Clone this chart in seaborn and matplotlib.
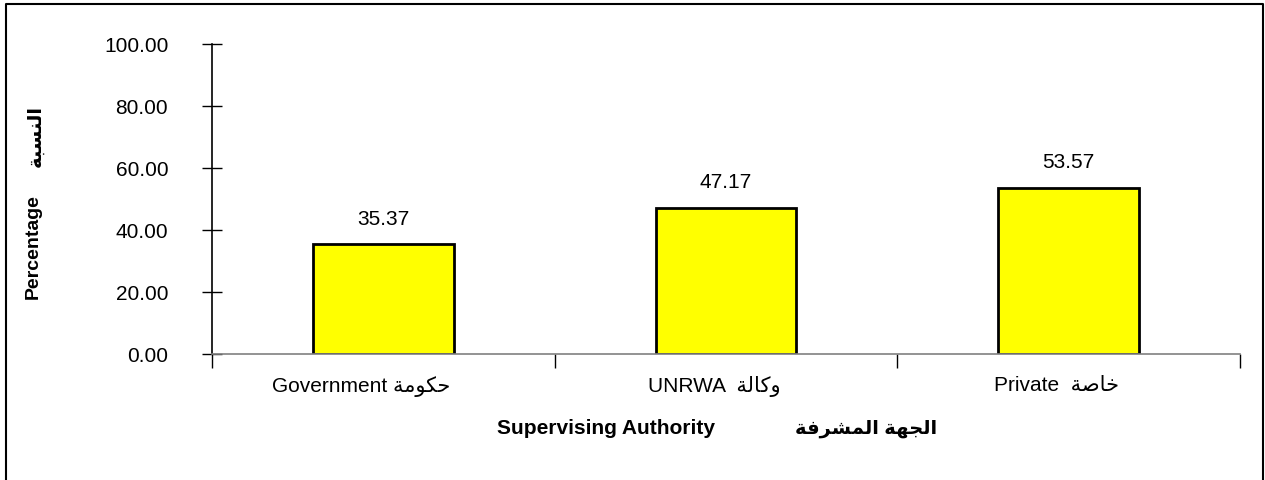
import pandas as pd
import seaborn as sns
import matplotlib.pyplot as plt
import matplotlib.transforms as mtransforms
from matplotlib.lines import Line2D

# Arabic written in presentation forms, visual (left-to-right) order
ar_gov = "\uFE94\uFEE3\uFEEE\uFEDC\uFEA3"          # حكومة
ar_unrwa = "\uFE94\uFEDF\uFE8E\uFEDB\uFEED"        # وكالة
ar_private = "\uFE94\uFEBB\uFE8E\uFEA7"            # خاصة
ar_pct = "\uFE94\uFE92\uFEB4\uFEE8\uFEDF\uFE8D"    # النسبة
ar_auth = "\uFE94\uFED3\uFEAE\uFEB8\uFEE4\uFEDF\uFE8D \uFE94\uFEEC\uFEA0\uFEDF\uFE8D"  # الجهة المشرفة

categories = ["Government " + ar_gov, "UNRWA  " + ar_unrwa, "Private  " + ar_private]
values = [35.37, 47.17, 53.57]
yticks = [0, 20, 40, 60, 80, 100]

data = pd.DataFrame({"authority": categories, "pct": values})

sns.set_style("white")
plt.rcParams['font.family'] = ['Liberation Sans', 'DejaVu Sans']
plt.rcParams['text.color'] = 'black'
plt.rcParams['xtick.labelcolor'] = 'black'
plt.rcParams['ytick.labelcolor'] = 'black'

fig = plt.figure(figsize=(12.65, 4.81), dpi=100)
ax = fig.add_axes([212 / 1265, 1 - 355 / 481, (1240 - 212) / 1265, 310 / 481])

sns.barplot(x="authority", y="pct", data=data, color="#FFFF00", width=0.41,
            edgecolor="black", linewidth=2, saturation=1, ax=ax)

for i, v in enumerate(values):
    ax.annotate(f"{v:.2f}", (i, v), xytext=(0, 12), textcoords="offset points",
                ha="center", va="bottom", fontsize=15)

ax.set_ylim(0, 100)
ax.set_xlim(-0.5, 2.5)
ax.set_yticks(yticks)
ax.set_yticklabels([f"{t:.2f}" for t in yticks], fontsize=15)
ax.tick_params(axis="y", direction="inout", length=15, width=1, color="black", pad=24, left=True)

# category labels centred, ticks on the boundaries
ax.set_xticks([0, 1, 2])
ax.set_xticklabels(categories, fontsize=15)
ax.tick_params(axis="x", length=0, pad=15)
# the original labels sit a little left of centre
for lab, dx in zip(ax.get_xticklabels(), [-22, -12, -12]):
    lab.set_transform(lab.get_transform() +
                      mtransforms.ScaledTranslation(dx / 100, 0, fig.dpi_scale_trans))
ax.set_xticks([-0.5, 0.5, 1.5, 2.5], minor=True)
ax.tick_params(axis="x", which="minor", direction="out", length=10, width=1, color="black", bottom=True)

for s in ["top", "right"]:
    ax.spines[s].set_visible(False)
ax.spines["left"].set_color("black")
ax.spines["left"].set_linewidth(1.2)
ax.spines["bottom"].set_color("#808080")
ax.spines["bottom"].set_linewidth(1.2)

ax.set_xlabel("")
ax.set_ylabel("")
fig.text(33 / 1265, 1 - 247 / 481, "Percentage", rotation=90,
         ha="center", va="center", fontsize=14, fontweight="bold")
fig.text(36 / 1265, 1 - 136 / 481, ar_pct, rotation=90,
         ha="center", va="center", fontsize=14, fontweight="bold")
fig.text(606 / 1265, 1 - 429 / 481, "Supervising Authority", ha="center", va="center",
         fontsize=15, fontweight="bold")
fig.text(866 / 1265, 1 - 429 / 481, ar_auth, ha="center", va="center",
         fontsize=14, fontweight="bold")

# outer frame
fig.add_artist(Line2D([6 / 1265, 6 / 1265, 1263 / 1265, 1263 / 1265],
                      [0, 1 - 5 / 481, 1 - 5 / 481, 0], color="black", lw=1.5,
                      transform=fig.transFigure))

fig.savefig("out.png", dpi=100)
